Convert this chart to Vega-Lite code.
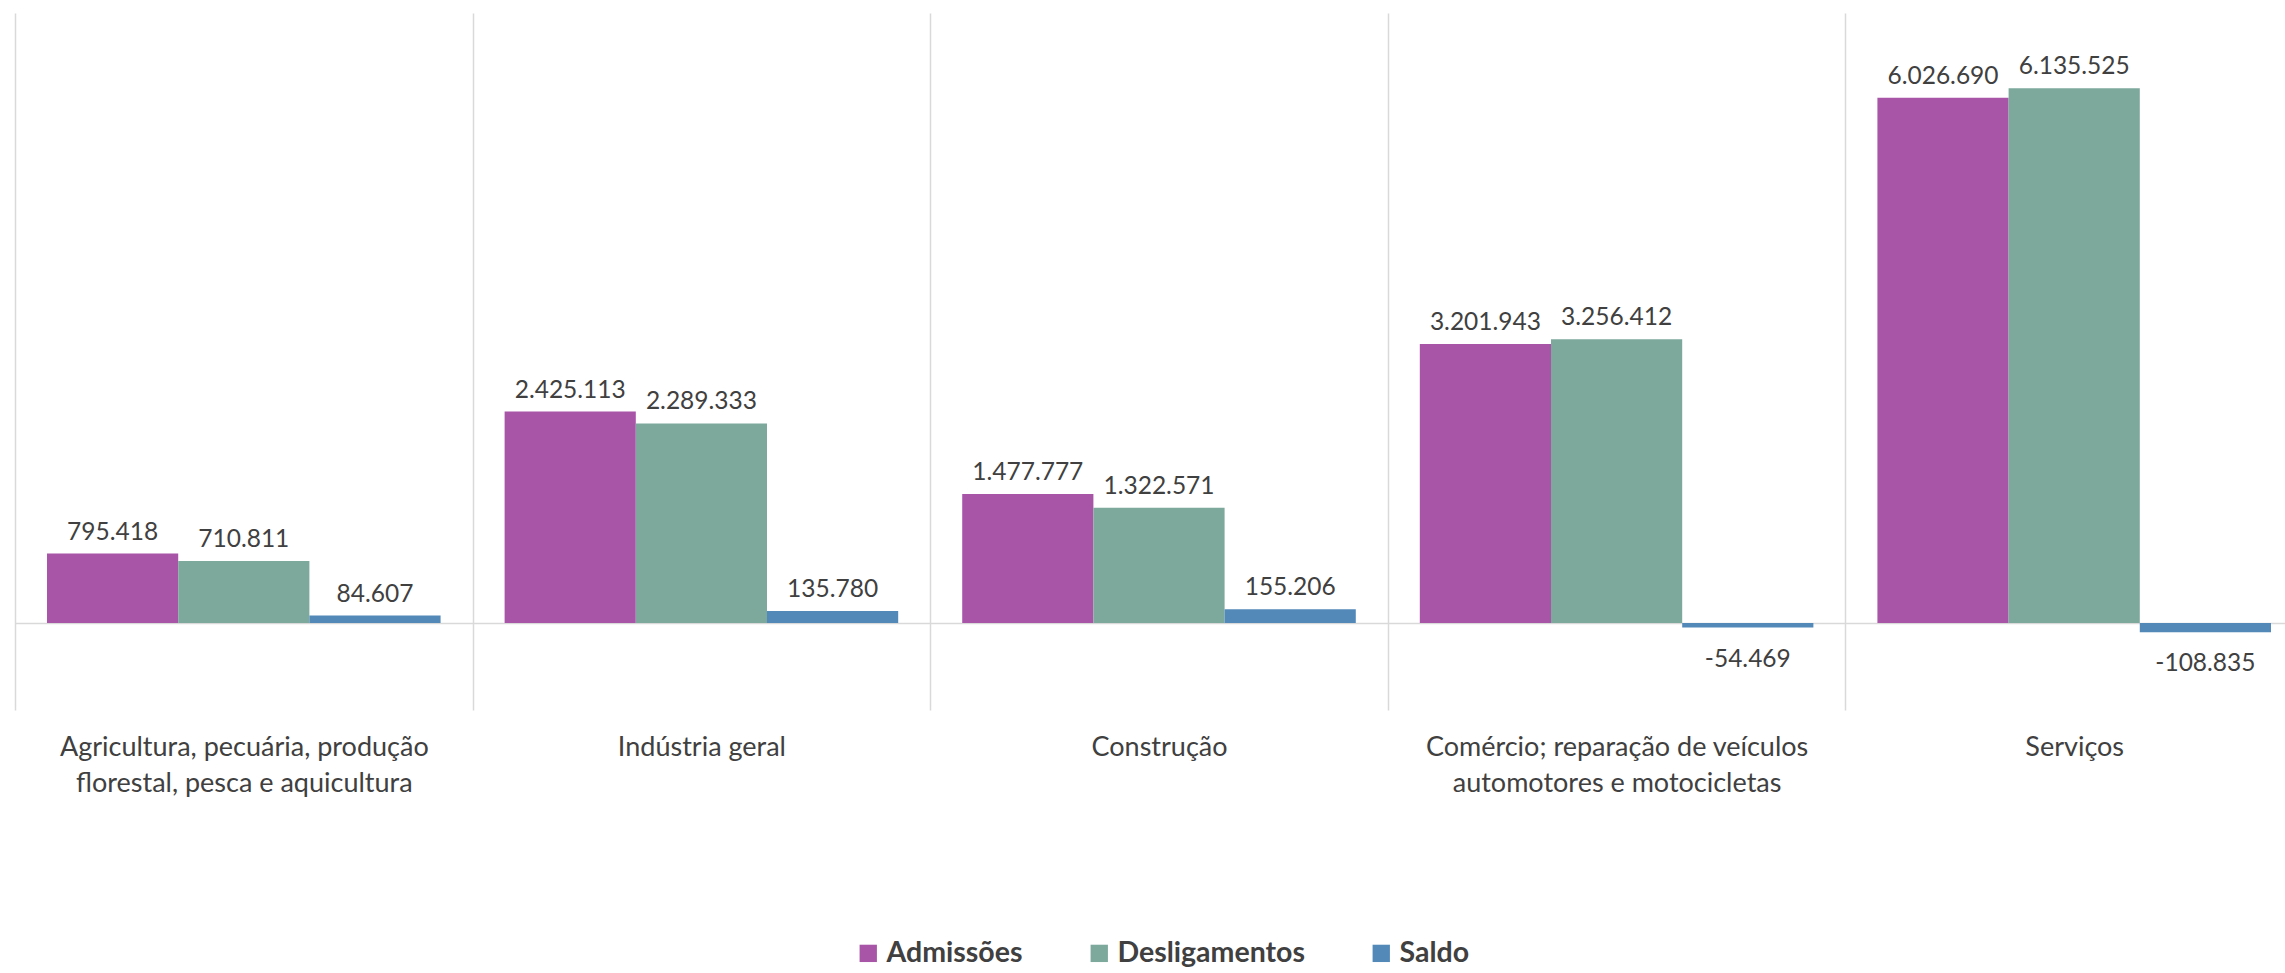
{
  "$schema": "https://vega.github.io/schema/vega-lite/v6.json",
  "width": 2288,
  "height": 697,
  "autosize": {"type": "none"},
  "padding": {"left": 15, "top": 13, "right": -18, "bottom": 263},
  "background": "white",
  "config": {
    "view": {"stroke": null},
    "font": "Lato",
    "locale": {"number": {"decimal": ",", "thousands": ".", "grouping": [3], "currency": ["R$", ""], "minus": "-"}}
  },
  "data": {
    "values": [
      {"setor": "Agricultura, pecuária, produção florestal, pesca e aquicultura", "serie": "Admissões", "valor": 795418},
      {"setor": "Agricultura, pecuária, produção florestal, pesca e aquicultura", "serie": "Desligamentos", "valor": 710811},
      {"setor": "Agricultura, pecuária, produção florestal, pesca e aquicultura", "serie": "Saldo", "valor": 84607},
      {"setor": "Indústria geral", "serie": "Admissões", "valor": 2425113},
      {"setor": "Indústria geral", "serie": "Desligamentos", "valor": 2289333},
      {"setor": "Indústria geral", "serie": "Saldo", "valor": 135780},
      {"setor": "Construção", "serie": "Admissões", "valor": 1477777},
      {"setor": "Construção", "serie": "Desligamentos", "valor": 1322571},
      {"setor": "Construção", "serie": "Saldo", "valor": 155206},
      {"setor": "Comércio; reparação de veículos automotores e motocicletas", "serie": "Admissões", "valor": 3201943},
      {"setor": "Comércio; reparação de veículos automotores e motocicletas", "serie": "Desligamentos", "valor": 3256412},
      {"setor": "Comércio; reparação de veículos automotores e motocicletas", "serie": "Saldo", "valor": -54469},
      {"setor": "Serviços", "serie": "Admissões", "valor": 6026690},
      {"setor": "Serviços", "serie": "Desligamentos", "valor": 6135525},
      {"setor": "Serviços", "serie": "Saldo", "valor": -108835}
    ]
  },
  "encoding": {
    "x": {
      "field": "setor",
      "type": "nominal",
      "sort": [
        "Agricultura, pecuária, produção florestal, pesca e aquicultura",
        "Indústria geral",
        "Construção",
        "Comércio; reparação de veículos automotores e motocicletas",
        "Serviços"
      ],
      "scale": {"paddingInner": 0, "paddingOuter": 0},
      "axis": {
        "title": null,
        "domain": false,
        "ticks": false,
        "grid": true,
        "tickBand": "extent",
        "gridColor": "#d9d9d9",
        "gridWidth": 1.5,
        "labelAngle": 0,
        "labelFont": "Lato",
        "labelFontSize": 27,
        "labelColor": "#404040",
        "labelPadding": 24,
        "labelLineHeight": 36,
        "labelBaseline": "top",
        "labelLimit": 0,
        "labelExpr": "split(replace(replace(datum.label, 'produção ', 'produção|'), 'veículos ', 'veículos|'), '|')"
      }
    },
    "xOffset": {
      "field": "serie",
      "type": "nominal",
      "sort": ["Admissões", "Desligamentos", "Saldo"],
      "scale": {"paddingInner": 0, "paddingOuter": 0.244}
    },
    "y": {
      "field": "valor",
      "type": "quantitative",
      "scale": {"domain": [-1000000, 7000000], "nice": false, "zero": true},
      "axis": {
        "title": null,
        "values": [0],
        "labels": false,
        "ticks": false,
        "domain": false,
        "grid": true,
        "gridColor": "#d9d9d9",
        "gridWidth": 1.5
      }
    }
  },
  "layer": [
    {
      "mark": {"type": "bar"},
      "encoding": {
        "color": {
          "field": "serie",
          "type": "nominal",
          "sort": ["Admissões", "Desligamentos", "Saldo"],
          "scale": {"domain": ["Admissões", "Desligamentos", "Saldo"], "range": ["#A855A8", "#7DA89C", "#5289B9"]},
          "legend": {
            "title": null,
            "orient": "none",
            "legendX": 839,
            "legendY": 926,
            "direction": "horizontal",
            "symbolType": "square",
            "symbolSize": 300,
            "symbolStrokeWidth": 0,
            "labelFont": "Lato",
            "labelFontSize": 28.5,
            "labelFontWeight": "bold",
            "labelColor": "#404040",
            "labelOffset": 4,
            "labelLimit": 0,
            "columnPadding": 62
          }
        }
      }
    },
    {
      "transform": [{"filter": "datum.valor >= 0"}],
      "mark": {"type": "text", "baseline": "bottom", "dy": -9, "fontSize": 24.5, "color": "#404040", "font": "Lato"},
      "encoding": {"text": {"field": "valor", "type": "quantitative", "format": ",d"}}
    },
    {
      "transform": [{"filter": "datum.valor < 0"}],
      "mark": {"type": "text", "baseline": "top", "dy": 20, "fontSize": 24.5, "color": "#404040", "font": "Lato"},
      "encoding": {"text": {"field": "valor", "type": "quantitative", "format": ",d"}}
    }
  ]
}
